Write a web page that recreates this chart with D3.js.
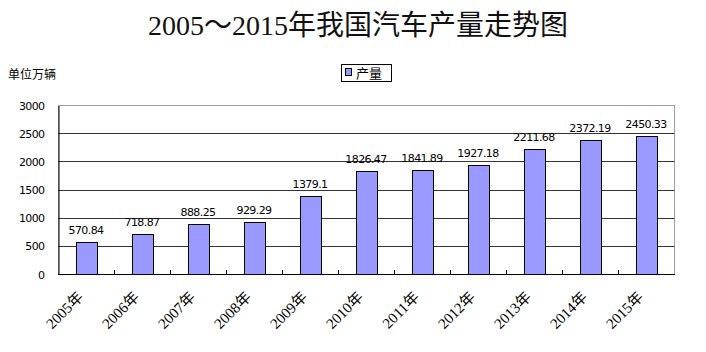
<!DOCTYPE html>
<html><head><meta charset="utf-8">
<script src="https://cdn.jsdelivr.net/npm/d3@7"></script>
<style>body{margin:0;background:#fff;}svg{display:block;}</style>
</head><body>
<script>
const categories = ["2005年","2006年","2007年","2008年","2009年","2010年","2011年","2012年","2013年","2014年","2015年"];
const values = [570.84, 718.87, 888.25, 929.29, 1379.1, 1826.47, 1841.89, 1927.18, 2211.68, 2372.19, 2450.33];
const valueLabels = ["570.84","718.87","888.25","929.29","1379.1","1826.47","1841.89","1927.18","2211.68","2372.19","2450.33"];
const yTicks = [0, 500, 1000, 1500, 2000, 2500, 3000];
const title = "2005～2015年我国汽车产量走势图";
const unitLabel = "单位万辆";
const seriesName = "产量";

const W = 706, H = 352;
const plot = {left: 58, right: 674, top: 105, bottom: 274};
const svg = d3.select("body").append("svg").attr("width", W).attr("height", H);

const x = d3.scaleBand().domain(categories).range([plot.left, plot.right]).paddingInner(0.625).paddingOuter(0.3125);
const xb = d3.scaleBand().domain(categories).range([plot.left, plot.right]);
const y = d3.scaleLinear().domain([0, 3000]).range([plot.bottom, plot.top]);

// title
svg.append("text").attr("x", 358).attr("y", 35).attr("text-anchor", "middle")
  .attr("font-family", "'Liberation Serif','Noto Sans CJK SC',serif").attr("font-size", 28)
  .attr("fill", "#111").text(title);

// unit label
svg.append("text").attr("x", 8).attr("y", 79)
  .attr("font-family", "'Noto Sans CJK SC',sans-serif").attr("font-size", 12).attr("fill", "#000").text(unitLabel);

// legend
const lg = svg.append("g");
lg.append("rect").attr("x", 341.5).attr("y", 64.5).attr("width", 50).attr("height", 17).attr("fill", "#fff").attr("stroke", "#000");
lg.append("rect").attr("x", 345.5).attr("y", 68.5).attr("width", 6).attr("height", 7).attr("fill", "#9999ff").attr("stroke", "#000");
lg.append("text").attr("x", 356).attr("y", 78).attr("font-family", "'Noto Sans CJK SC',sans-serif").attr("font-size", 13).attr("fill", "#000").text(seriesName);

// plot border
svg.append("rect").attr("x", plot.left + 0.5).attr("y", plot.top + 0.5).attr("width", plot.right - plot.left).attr("height", plot.bottom - plot.top)
  .attr("fill", "none").attr("stroke", "#a0a0a0");

// gridlines
svg.append("g").selectAll("line").data(yTicks.filter(d => d > 0 && d < 3000)).join("line")
  .attr("x1", plot.left).attr("x2", plot.right + 0.5)
  .attr("y1", d => Math.round(y(d)) + 0.5).attr("y2", d => Math.round(y(d)) + 0.5)
  .attr("stroke", "#333");

// y axis
const yAxis = svg.append("g").attr("transform", `translate(${plot.left + 0.5},0.5)`)
  .call(d3.axisLeft(y).tickValues(yTicks).tickSize(0).tickPadding(14).tickFormat(d3.format("d")));
yAxis.select(".domain").attr("stroke", "#000");
yAxis.selectAll("text").attr("font-family", "'DejaVu Sans',sans-serif").attr("font-size", 11).attr("fill", "#000").attr("letter-spacing", -0.6);

// bars
svg.append("g").selectAll("rect").data(values).join("rect")
  .attr("x", (d, i) => Math.round(x(categories[i])) + 0.5)
  .attr("y", d => Math.round(y(d)) + 0.5)
  .attr("width", Math.round(x.bandwidth()))
  .attr("height", d => plot.bottom - Math.round(y(d)))
  .attr("fill", "#9999ff").attr("stroke", "#000").attr("stroke-width", 1);

// x axis baseline with inward ticks at category boundaries
svg.append("line").attr("x1", plot.left).attr("x2", plot.right + 1).attr("y1", plot.bottom + 0.5).attr("y2", plot.bottom + 0.5).attr("stroke", "#000");
svg.append("g").selectAll("line").data(categories.slice(1)).join("line")
  .attr("x1", d => Math.round(xb(d)) + 0.5).attr("x2", d => Math.round(xb(d)) + 0.5)
  .attr("y1", plot.bottom).attr("y2", plot.bottom - 4).attr("stroke", "#000");

// value labels
svg.append("g").selectAll("text").data(values).join("text")
  .attr("x", (d, i) => x(categories[i]) + x.bandwidth() / 2)
  .attr("y", d => y(d) - 8)
  .attr("text-anchor", "middle")
  .attr("font-family", "'DejaVu Sans',sans-serif").attr("font-size", 11).attr("letter-spacing", -0.6).attr("fill", "#000")
  .text((d, i) => valueLabels[i]);

// x labels rotated
svg.append("g").selectAll("text").data(categories).join("text")
  .attr("transform", d => `translate(${xb(d) + xb.bandwidth() / 2 - 2},${plot.bottom + 24}) rotate(-45)`)
  .attr("text-anchor", "end")
  .attr("font-family", "'Liberation Serif','Noto Sans CJK SC',serif").attr("font-size", 15).attr("fill", "#000")
  .text(d => d);
</script>
</body></html>
